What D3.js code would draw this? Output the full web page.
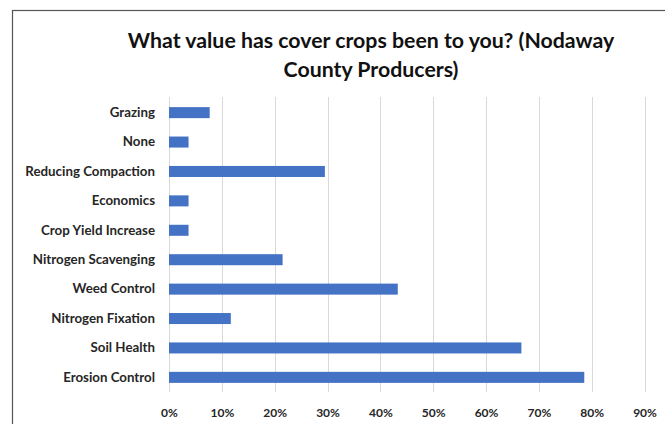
<!DOCTYPE html>
<html>
<head>
<meta charset="utf-8">
<script src="https://cdn.jsdelivr.net/npm/d3@7"></script>
<style>
  html, body { margin: 0; padding: 0; background: #fff; }
  svg { display: block; }
</style>
</head>
<body>
<svg id="chart" width="665" height="424"></svg>
<script>
const categories = ["Grazing", "None", "Reducing Compaction", "Economics", "Crop Yield Increase",
  "Nitrogen Scavenging", "Weed Control", "Nitrogen Fixation", "Soil Health", "Erosion Control"];
const values = [0.077, 0.037, 0.295, 0.037, 0.037, 0.215, 0.433, 0.117, 0.667, 0.786];
const tickValues = [0, 0.1, 0.2, 0.3, 0.4, 0.5, 0.6, 0.7, 0.8, 0.9];
const titleLines = ["What value has cover crops been to you? (Nodaway", "County Producers)"];

const svg = d3.select("#chart");
const font = "Lato, 'Open Sans', sans-serif";

// chart frame
svg.append("rect")
  .attr("x", 12.5).attr("y", 10.5)
  .attr("width", 700).attr("height", 500)
  .attr("fill", "#fff").attr("stroke", "#555").attr("stroke-width", 1.2);

const x = d3.scaleLinear().domain([0, 0.9]).range([169, 644.5]);
const y = d3.scaleBand().domain(categories).range([98, 392]).paddingInner(0.625).paddingOuter(0.31);

// gridlines
svg.append("g").selectAll("line").data(tickValues).join("line")
  .attr("x1", d => Math.round(x(d)) + 0.5).attr("x2", d => Math.round(x(d)) + 0.5)
  .attr("y1", 97).attr("y2", 392)
  .attr("stroke", "#d9d9d9").attr("stroke-width", 1);

// bars
svg.append("g").selectAll("rect").data(categories).join("rect")
  .attr("x", x(0))
  .attr("y", d => y(d))
  .attr("width", (d, i) => x(values[i]) - x(0))
  .attr("height", y.bandwidth())
  .attr("fill", "#4472c4");

// x axis labels
const xAxis = d3.axisBottom(x).tickValues(tickValues).tickFormat(d3.format(".0%")).tickSize(0).tickPadding(0);
const gx = svg.append("g").attr("transform", "translate(0,408)").call(xAxis);
gx.select(".domain").remove();
gx.selectAll("text")
  .attr("font-family", font).attr("font-size", 12).attr("font-weight", "bold")
  .attr("fill", "#262626").attr("dy", "0.71em");

// y axis labels
const yAxis = d3.axisLeft(y).tickSize(0).tickPadding(14);
const gy = svg.append("g").attr("transform", `translate(${x(0)},0)`).call(yAxis);
gy.select(".domain").remove();
gy.selectAll("text")
  .attr("font-family", font).attr("font-size", 13.3).attr("font-weight", "bold")
  .attr("fill", "#262626");

// title
svg.append("g").selectAll("text").data(titleLines).join("text")
  .attr("x", 371).attr("y", (d, i) => 48 + i * 29)
  .attr("text-anchor", "middle")
  .attr("font-family", font).attr("font-size", 21.3).attr("font-weight", "bold")
  .attr("fill", "#111")
  .text(d => d);
</script>
</body>
</html>
